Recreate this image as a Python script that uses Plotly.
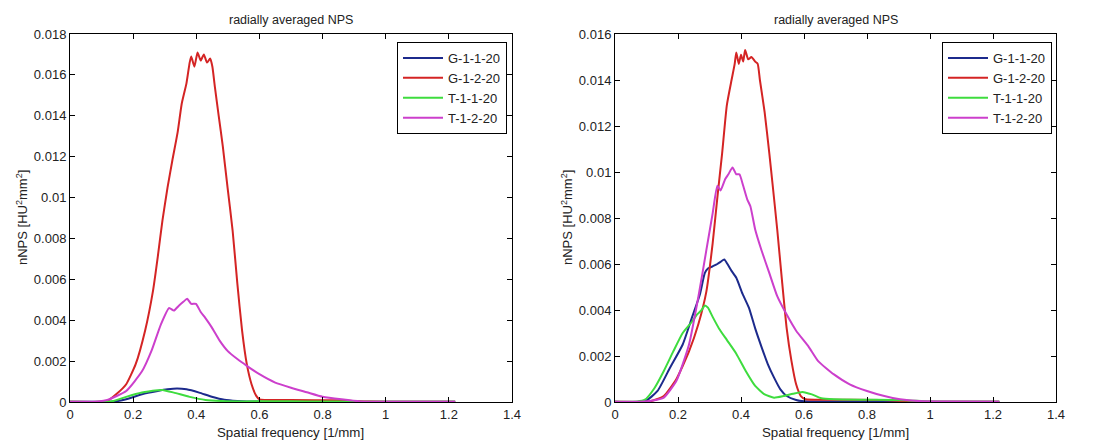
import plotly.graph_objects as go

# ---------------- data ----------------
# Left panel
L_blue_x = [0, 0.10, 0.138, 0.178, 0.228, 0.278, 0.309, 0.339, 0.369, 0.409, 0.449, 0.489, 0.53, 0.56, 0.7, 0.9, 1.22]
L_blue_y = [0.00001, 0.00001, 0.00002, 0.00013, 0.00038, 0.00054, 0.00062, 0.00066, 0.00062, 0.00046, 0.00026, 0.00011, 0.00005, 0.00003, 0.00002, 0.00001, 0.00001]

L_red_x = [0, 0.10, 0.118, 0.148, 0.178, 0.208, 0.238, 0.263, 0.278, 0.293, 0.309, 0.324, 0.341, 0.354, 0.369,
           0.379, 0.384, 0.394, 0.404, 0.414, 0.424, 0.434, 0.444, 0.451, 0.459, 0.471, 0.484, 0.499, 0.515,
           0.530, 0.545, 0.560, 0.575, 0.590, 0.60, 0.7, 0.85, 0.95, 1.22]
L_red_y = [0.00001, 0.00001, 0.00005, 0.0004, 0.00087, 0.00185, 0.0035, 0.00545, 0.0071, 0.0089, 0.0105, 0.0118, 0.0132, 0.0146, 0.0156,
           0.0166, 0.0169, 0.0164, 0.0171, 0.0167, 0.0170, 0.0166, 0.0168, 0.0164, 0.0154, 0.0140, 0.0125, 0.0105, 0.0084,
           0.0058, 0.0035, 0.00185, 0.00087, 0.0003, 0.00013, 0.0001, 0.00008, 0.00002, 0.00001]

L_green_x = [0, 0.11, 0.138, 0.178, 0.228, 0.278, 0.293, 0.329, 0.379, 0.429, 0.479, 0.55, 0.65, 0.75, 0.85, 0.95, 1.22]
L_green_y = [0.00001, 0.00001, 0.00005, 0.00025, 0.00046, 0.00057, 0.00059, 0.00046, 0.00025, 0.0001, 0.00005, 0.00003, 0.00004, 0.00003, 0.00002, 0.00001, 0.00001]

L_mag_x = [0, 0.09, 0.118, 0.178, 0.228, 0.258, 0.288, 0.314, 0.329, 0.344, 0.359, 0.371, 0.384, 0.399, 0.414,
           0.429, 0.449, 0.474, 0.499, 0.530, 0.560, 0.60, 0.65, 0.70, 0.75, 0.80, 0.86, 0.92, 1.0, 1.22]
L_mag_y = [0.00001, 0.00003, 0.0001, 0.00054, 0.0015, 0.0025, 0.0038, 0.0046, 0.00447, 0.0047, 0.0049, 0.00505, 0.0048, 0.0048, 0.0044,
           0.0041, 0.00365, 0.0030, 0.0025, 0.0021, 0.00177, 0.00136, 0.00095, 0.0007, 0.00048, 0.00026, 0.00013, 0.00003, 0.00001, 0.00001]

# Right panel
R_blue_x = [0, 0.095, 0.135, 0.175, 0.215, 0.245, 0.27, 0.285, 0.295, 0.31, 0.325, 0.335, 0.347, 0.357, 0.37,
            0.385, 0.405, 0.425, 0.445, 0.465, 0.485, 0.505, 0.525, 0.545, 0.575, 0.60, 0.8, 1.0, 1.22]
R_blue_y = [0.00001, 0.00003, 0.00048, 0.0015, 0.0025, 0.0037, 0.0047, 0.0056, 0.0058, 0.0059, 0.0060, 0.00609, 0.0062, 0.0060, 0.0057,
            0.0054, 0.0047, 0.0041, 0.0032, 0.0024, 0.00165, 0.00106, 0.00055, 0.00026, 0.00009, 0.00003, 0.00002, 0.00001, 0.00001]

R_red_x = [0, 0.10, 0.115, 0.155, 0.195, 0.235, 0.265, 0.29, 0.31, 0.325, 0.34, 0.355, 0.37, 0.38, 0.385, 0.393,
           0.40, 0.407, 0.413, 0.423, 0.433, 0.445, 0.453, 0.46, 0.475, 0.49, 0.50, 0.515, 0.53, 0.545,
           0.56, 0.575, 0.59, 0.605, 0.7, 0.85, 0.95, 1.22]
R_red_y = [0.00001, 0.00001, 0.00004, 0.00026, 0.001, 0.0022, 0.0034, 0.0048, 0.0069, 0.0089, 0.0108, 0.0129, 0.0140, 0.0147, 0.0152, 0.0147,
           0.0151, 0.0148, 0.0153, 0.0149, 0.0150, 0.0148, 0.0147, 0.0140, 0.0126, 0.0108, 0.0095, 0.0075, 0.0053, 0.0032,
           0.0018, 0.00077, 0.00026, 0.00012, 0.0001, 0.00009, 0.00002, 0.00001]

R_green_x = [0, 0.07, 0.095, 0.125, 0.155, 0.185, 0.215, 0.245, 0.26, 0.275, 0.285, 0.295, 0.31, 0.33, 0.355, 0.385,
             0.415, 0.445, 0.475, 0.505, 0.535, 0.565, 0.595, 0.625, 0.655, 0.695, 0.8, 0.92, 1.0, 1.22]
R_green_y = [0.00001, 0.00002, 0.0001, 0.0006, 0.00135, 0.0022, 0.0030, 0.0035, 0.0038, 0.0040, 0.0042, 0.0041, 0.0037, 0.0032, 0.0027, 0.0021,
             0.00135, 0.0007, 0.00033, 0.00019, 0.00026, 0.00036, 0.00044, 0.00033, 0.00016, 0.00012, 0.0001, 0.00008, 0.00002, 0.00001]

R_mag_x = [0, 0.09, 0.115, 0.155, 0.195, 0.235, 0.265, 0.29, 0.31, 0.325, 0.335, 0.35, 0.36, 0.373, 0.385, 0.395,
           0.407, 0.42, 0.43, 0.445, 0.465, 0.49, 0.515, 0.545, 0.575, 0.615, 0.645, 0.695, 0.745, 0.80,
           0.855, 0.905, 0.965, 1.05, 1.22]
R_mag_y = [0.00001, 0.00002, 0.00005, 0.00019, 0.00092, 0.0025, 0.0046, 0.0066, 0.0082, 0.0094, 0.0092, 0.0097, 0.0099, 0.0102, 0.0099, 0.0099,
           0.0094, 0.0088, 0.0085, 0.0075, 0.0066, 0.0056, 0.0046, 0.0038, 0.0031, 0.0024, 0.00178, 0.0012, 0.00077, 0.00048,
           0.00026, 0.00012, 0.00004, 0.00002, 0.00001]

series_names = ["G-1-1-20", "G-1-2-20", "T-1-1-20", "T-1-2-20"]
series_colors = ["#1c2a8c", "#d42424", "#3edc3e", "#cc3fcc"]

x_ticks = [0, 0.2, 0.4, 0.6, 0.8, 1, 1.2, 1.4]
x_tick_text = ["0", "0.2", "0.4", "0.6", "0.8", "1", "1.2", "1.4"]
yL_ticks = [0, 0.002, 0.004, 0.006, 0.008, 0.01, 0.012, 0.014, 0.016, 0.018]
yL_text = ["0", "0.002", "0.004", "0.006", "0.008", "0.01", "0.012", "0.014", "0.016", "0.018"]
yR_ticks = [0, 0.002, 0.004, 0.006, 0.008, 0.01, 0.012, 0.014, 0.016]
yR_text = ["0", "0.002", "0.004", "0.006", "0.008", "0.01", "0.012", "0.014", "0.016"]

title_text = "radially averaged NPS"
x_title = "Spatial frequency [1/mm]"
y_title = "nNPS [HU<sup>2</sup>mm<sup>2</sup>]"

# ---------------- figure ----------------
W, H = 1094, 445
FONT = "Liberation Sans, Arial, sans-serif"
TXT = "#222"
fig = go.Figure()

left = [(L_blue_x, L_blue_y), (L_red_x, L_red_y), (L_green_x, L_green_y), (L_mag_x, L_mag_y)]
right = [(R_blue_x, R_blue_y), (R_red_x, R_red_y), (R_green_x, R_green_y), (R_mag_x, R_mag_y)]

for (x, y), n, c in zip(left, series_names, series_colors):
    fig.add_trace(go.Scatter(x=x, y=y, mode="lines", name=n,
                             line=dict(color=c, width=2, shape="spline", smoothing=0.5),
                             xaxis="x", yaxis="y", legend="legend"))
for (x, y), n, c in zip(right, series_names, series_colors):
    fig.add_trace(go.Scatter(x=x, y=y, mode="lines", name=n,
                             line=dict(color=c, width=2, shape="spline", smoothing=0.5),
                             xaxis="x2", yaxis="y2", legend="legend2"))

ydom = [1 - 402 / H, 1 - 34 / H]
xdomL = [70 / W, 512 / W]
xdomR = [615 / W, 1056 / W]

axis_common = dict(showline=True, linecolor="black", linewidth=1, mirror="ticks",
                   ticks="inside", ticklen=5, tickcolor="black", showgrid=False, zeroline=False,
                   automargin=False, tickfont=dict(family=FONT, size=13, color=TXT))

legend_common = dict(xanchor="right", yanchor="top", bordercolor="black", borderwidth=1,
                     bgcolor="white", font=dict(family=FONT, size=13, color=TXT),
                     tracegroupgap=0, itemwidth=40)

fig.update_layout(
    width=W, height=H, margin=dict(l=0, r=0, t=0, b=0), autosize=False,
    paper_bgcolor="white", plot_bgcolor="white",
    font=dict(family=FONT, color=TXT),
    xaxis=dict(domain=xdomL, range=[0, 1.4], tickvals=x_ticks, ticktext=x_tick_text,
               anchor="y", **axis_common),
    yaxis=dict(domain=ydom, range=[0, 0.018], tickvals=yL_ticks, ticktext=yL_text,
               anchor="x", **axis_common),
    xaxis2=dict(domain=xdomR, range=[0, 1.4], tickvals=x_ticks, ticktext=x_tick_text,
                anchor="y2", **axis_common),
    yaxis2=dict(domain=ydom, range=[0, 0.016], tickvals=yR_ticks, ticktext=yR_text,
                anchor="x2", **axis_common),
    legend=dict(x=507 / W, y=1 - 42 / H, **legend_common),
    legend2=dict(x=1052 / W, y=1 - 42 / H, **legend_common),
)

for xd in (xdomL, xdomR):
    cx = (xd[0] + xd[1]) / 2
    fig.add_annotation(x=cx, y=1 - 20 / H, xref="paper", yref="paper", text=title_text,
                       showarrow=False, font=dict(family=FONT, size=12.5, color=TXT),
                       xanchor="center", yanchor="middle")
    fig.add_annotation(x=cx, y=1 - 432 / H, xref="paper", yref="paper", text=x_title,
                       showarrow=False, font=dict(family=FONT, size=13.3, color=TXT),
                       xanchor="center", yanchor="middle")
    fig.add_annotation(x=(xd[0] * W - 48) / W, y=(ydom[0] + ydom[1]) / 2, xref="paper", yref="paper",
                       text=y_title, textangle=-90, showarrow=False,
                       font=dict(family=FONT, size=13, color=TXT),
                       xanchor="center", yanchor="middle")

fig.write_html("out.html", config={"displayModeBar": False},
               post_script="document.body.style.margin='0';document.body.style.overflow='hidden';")
